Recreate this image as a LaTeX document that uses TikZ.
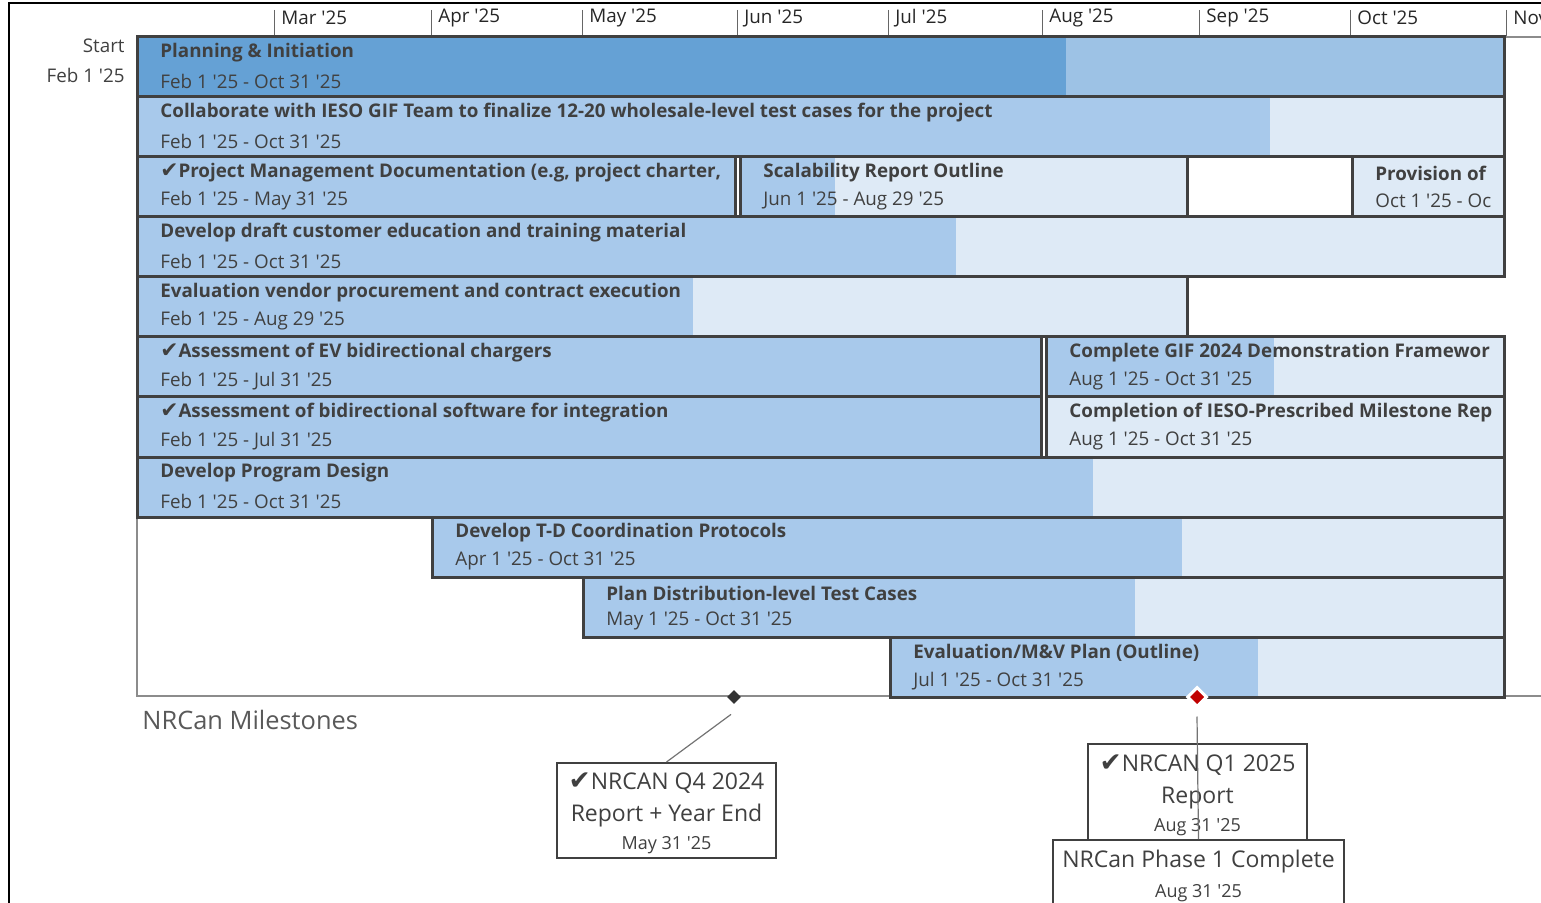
\documentclass[tikz,border=0pt]{standalone}
\usepackage{fontspec}
\setmainfont{Open Sans}
\newfontfamily\symfont{DejaVu Sans}
\usetikzlibrary{shapes.geometric,fit}

\definecolor{barline}{HTML}{404040}
\definecolor{inkgray}{HTML}{404040}
\definecolor{sumdone}{HTML}{65A1D5}
\definecolor{sumrest}{HTML}{9DC2E5}
\definecolor{taskdone}{HTML}{A8C9EB}
\definecolor{taskrest}{HTML}{DEEAF6}
\definecolor{msred}{HTML}{C00000}

\newcommand\chk{{\symfont\bfseries\scalebox{1.15}{\char"2714}}}
\newcommand\ap{\textquotesingle}

% a bar: [colours] name, left, right, top, progress end, title, dates
\newcommand\taskbar[8][]{%
  \begin{scope}[#1]
    \fill[rest] (#3,#5) rectangle (#4,#5+60);
    \fill[done] (#3,#5) rectangle (#6,#5+60);
  \end{scope}
  \node[bar, fit={(#3,#5) (#4,#5+60)}] (#2) {};
  \begin{scope}
    \clip (#3,#5) rectangle (#4-3,#5+60);
    \node[title, anchor=west] (#2-t) at (#3+23,#5+16) {#7};
    \node[dates, anchor=west] (#2-d) at (#3+23,#5+44) {#8};
  \end{scope}
}

\begin{document}
\begin{tikzpicture}[x=0.5pt, y=-0.5pt,
	done/.style={fill=taskdone},
	rest/.style={fill=taskrest},
	bar/.style={draw=barline, line width=1.5pt, inner sep=0pt},
	title/.style={inner sep=0pt, text=inkgray, font=\bfseries\fontsize{9.4}{11}\selectfont},
	dates/.style={inner sep=0pt, text=inkgray, font=\fontsize{9.4}{11}\selectfont},
	month/.style={inner sep=0pt, text=black!85, font=\fontsize{9.4}{11}\selectfont},
	axis/.style={draw=black!45, line width=0.6pt},
	mstone/.style={diamond, inner sep=0pt, minimum size=7pt},
	callout/.style={draw=barline, line width=1pt, fill=white, inner sep=0pt,
		align=center, text=inkgray, font=\fontsize{11.5}{16}\selectfont},
	lead/.style={draw=black!55, line width=0.6pt}]
	\useasboundingbox (0,0) rectangle (1541,903);

	% frame
	\draw[line width=1pt] (9,903) -- (9,3) -- (1541,3);

	% months
	\foreach \x/\m in {274/Mar,431/Apr,582/May,737/Jun,888/Jul,1042/Aug,1199/Sep,1350/Oct,1506/Nov} {
		\draw[draw=black!60, line width=0.5pt] (\x,10) -- (\x,37);
		\node[month, anchor=west] (mon-\m) at (\x+7,18) {\m\ \ap25};
	}

	% start date
	\node[month, text=inkgray, anchor=east] (start) at (125,46) {Start};
	\node[month, text=inkgray, anchor=east] (startdate) at (125,75) {Feb 1 \ap25};

	% chart axes
	\draw[axis] (137,37) -- (1541,37);
	\draw[axis] (137,37) -- (137,696) -- (1541,696);

	% bars
	\taskbar[done/.style={fill=sumdone}, rest/.style={fill=sumrest}]{plan}{137}{1504}{37}{1066}
		{Planning \& Initiation}{Feb 1 \ap25 - Oct 31 \ap25}
	\taskbar{giftest}{137}{1504}{97}{1270}
		{Collaborate with IESO GIF Team to finalize 12-20 wholesale-level test cases for the project}{Feb 1 \ap25 - Oct 31 \ap25}
	\taskbar{pmdoc}{137}{735}{157}{735}
		{\chk Project Management Documentation (e.g, project charter,}{Feb 1 \ap25 - May 31 \ap25}
	\taskbar{scale}{740}{1187}{157}{835}
		{Scalability Report Outline}{Jun 1 \ap25 - Aug 29 \ap25}
	\taskbar{provis}{1352}{1504}{157}{1352}
		{Provision of}{Oct 1 \ap25 - Oc}
	\taskbar{train}{137}{1504}{217}{956}
		{Develop draft customer education and training material}{Feb 1 \ap25 - Oct 31 \ap25}
	\taskbar{vendor}{137}{1187}{277}{693}
		{Evaluation vendor procurement and contract execution}{Feb 1 \ap25 - Aug 29 \ap25}
	\taskbar{evchg}{137}{1041}{337}{1041}
		{\chk Assessment of EV bidirectional chargers}{Feb 1 \ap25 - Jul 31 \ap25}
	\taskbar{framew}{1046}{1504}{337}{1274}
		{Complete GIF 2024 Demonstration Framewor}{Aug 1 \ap25 - Oct 31 \ap25}
	\taskbar{software}{137}{1041}{397}{1041}
		{\chk Assessment of bidirectional software for integration}{Feb 1 \ap25 - Jul 31 \ap25}
	\taskbar{iesorep}{1046}{1504}{397}{1046}
		{Completion of IESO-Prescribed Milestone Rep}{Aug 1 \ap25 - Oct 31 \ap25}
	\taskbar{design}{137}{1504}{457}{1093}
		{Develop Program Design}{Feb 1 \ap25 - Oct 31 \ap25}
	\taskbar{tdcoord}{432}{1504}{517}{1182}
		{Develop T-D Coordination Protocols}{Apr 1 \ap25 - Oct 31 \ap25}
	\taskbar{distcase}{583}{1504}{577}{1135}
		{Plan Distribution-level Test Cases}{May 1 \ap25 - Oct 31 \ap25}
	\taskbar{mvplan}{890}{1504}{637}{1258}
		{Evaluation/M\&V Plan (Outline)}{Jul 1 \ap25 - Oct 31 \ap25}

	% milestones
	\node[anchor=west, inner sep=0pt, text=black!65, font=\fontsize{12.7}{14}\selectfont] (mslabel) at (142,720) {NRCan Milestones};

	\node[mstone, fill=black!80] (q4mark) at (734,697) {};
	\node[mstone, minimum size=10pt, fill=msred, draw=white, line width=1.5pt] (q1mark) at (1197,697) {};

	% callouts
	\node[callout, minimum width=109.5pt, minimum height=47.5pt] (q4box) at (666.5,810.5)
		{\rule{0pt}{11.5pt}\chk NRCAN Q4 2024\\Report + Year End\\[-2pt]{\fontsize{9}{10}\selectfont May 31 \ap25}};
	\node[callout, minimum width=109.5pt, minimum height=48pt] (q1box) at (1197.5,792)
		{\rule{0pt}{11.5pt}\chk NRCAN Q1 2025\\Report\\[-2pt]{\fontsize{9}{10}\selectfont Aug 31 \ap25}};
	\node[callout, minimum width=145.5pt, minimum height=33.5pt] (phase1) at (1198.5,873.5)
		{\rule{0pt}{11.5pt}NRCan Phase 1 Complete\\[-1pt]{\fontsize{9}{10}\selectfont Aug 31 \ap25}};

	% leaders
	\draw[lead] (q4mark.south) ++(-3,10) -- (q4box.north);
	\draw[lead] (q1mark.south) ++(0,8) -- (phase1.north);

\end{tikzpicture}
\end{document}
